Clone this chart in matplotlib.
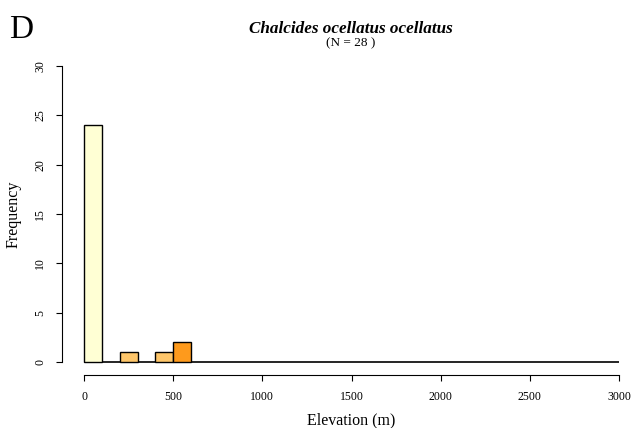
import matplotlib
matplotlib.use("Agg")
import matplotlib.pyplot as plt
import numpy as np

plt.rcParams['font.family'] = ['Liberation Serif', 'DejaVu Serif']

# histogram of elevations, 100 m bins
bin_left = [0, 200, 400, 500]
counts = [24, 1, 1, 2]
bar_colors = ["#FFFFD4", "#FEC66A", "#FE9A1C"]
bar_color_idx = [0, 1, 1, 2]
bin_width = 100
x_max = 3000
y_max = 30
x_ticks = [0, 500, 1000, 1500, 2000, 2500, 3000]
y_ticks = [0, 5, 10, 15, 20, 25, 30]

fig = plt.figure(figsize=(6.33, 4.28), dpi=100)
ax = fig.add_axes([84 / 633, 1 - 362 / 428, (619 - 84) / 633, (362 - 66) / 428])

ax.bar(bin_left, counts, width=bin_width, align='edge',
       color=[bar_colors[i] for i in bar_color_idx],
       edgecolor='black', linewidth=1.0, zorder=3, clip_on=False)
ax.hlines(0, 0, x_max, color='black', linewidth=1.2, zorder=2, clip_on=False)

ax.set_xlim(0, x_max)
ax.set_ylim(0, y_max)

for s in ['top', 'right']:
    ax.spines[s].set_visible(False)
ax.spines['left'].set_position(('outward', 22 * 0.72))
ax.spines['bottom'].set_position(('outward', 13 * 0.72))
ax.spines['left'].set_bounds(0, y_max)
ax.spines['bottom'].set_bounds(0, x_max)
ax.spines['left'].set_linewidth(0.8)
ax.spines['bottom'].set_linewidth(0.8)

ax.set_xticks(x_ticks)
ax.set_yticks(y_ticks)
ax.tick_params(axis='x', length=4.5, width=0.8, labelsize=8.5, pad=7)
ax.tick_params(axis='y', length=4.5, width=0.8, labelsize=8.5, pad=7)
for lab in ax.get_yticklabels():
    lab.set_rotation(90)
    lab.set_va('center')

ax.set_xlabel("Elevation (m)", fontsize=11.5, labelpad=7)
ax.set_ylabel("Frequency", fontsize=11.5, labelpad=9)

fig.text(351 / 633, 1 - 29 / 428, "Chalcides ocellatus ocellatus",
         ha='center', va='center', fontsize=12.3, fontweight='bold', style='italic')
fig.text(351 / 633, 1 - 43 / 428, "(N = 28 )", ha='center', va='center', fontsize=9.5)
fig.text(9 / 633, 1 - 30 / 428, "D", ha='left', va='center', fontsize=24)

fig.savefig("out.png", dpi=100)
